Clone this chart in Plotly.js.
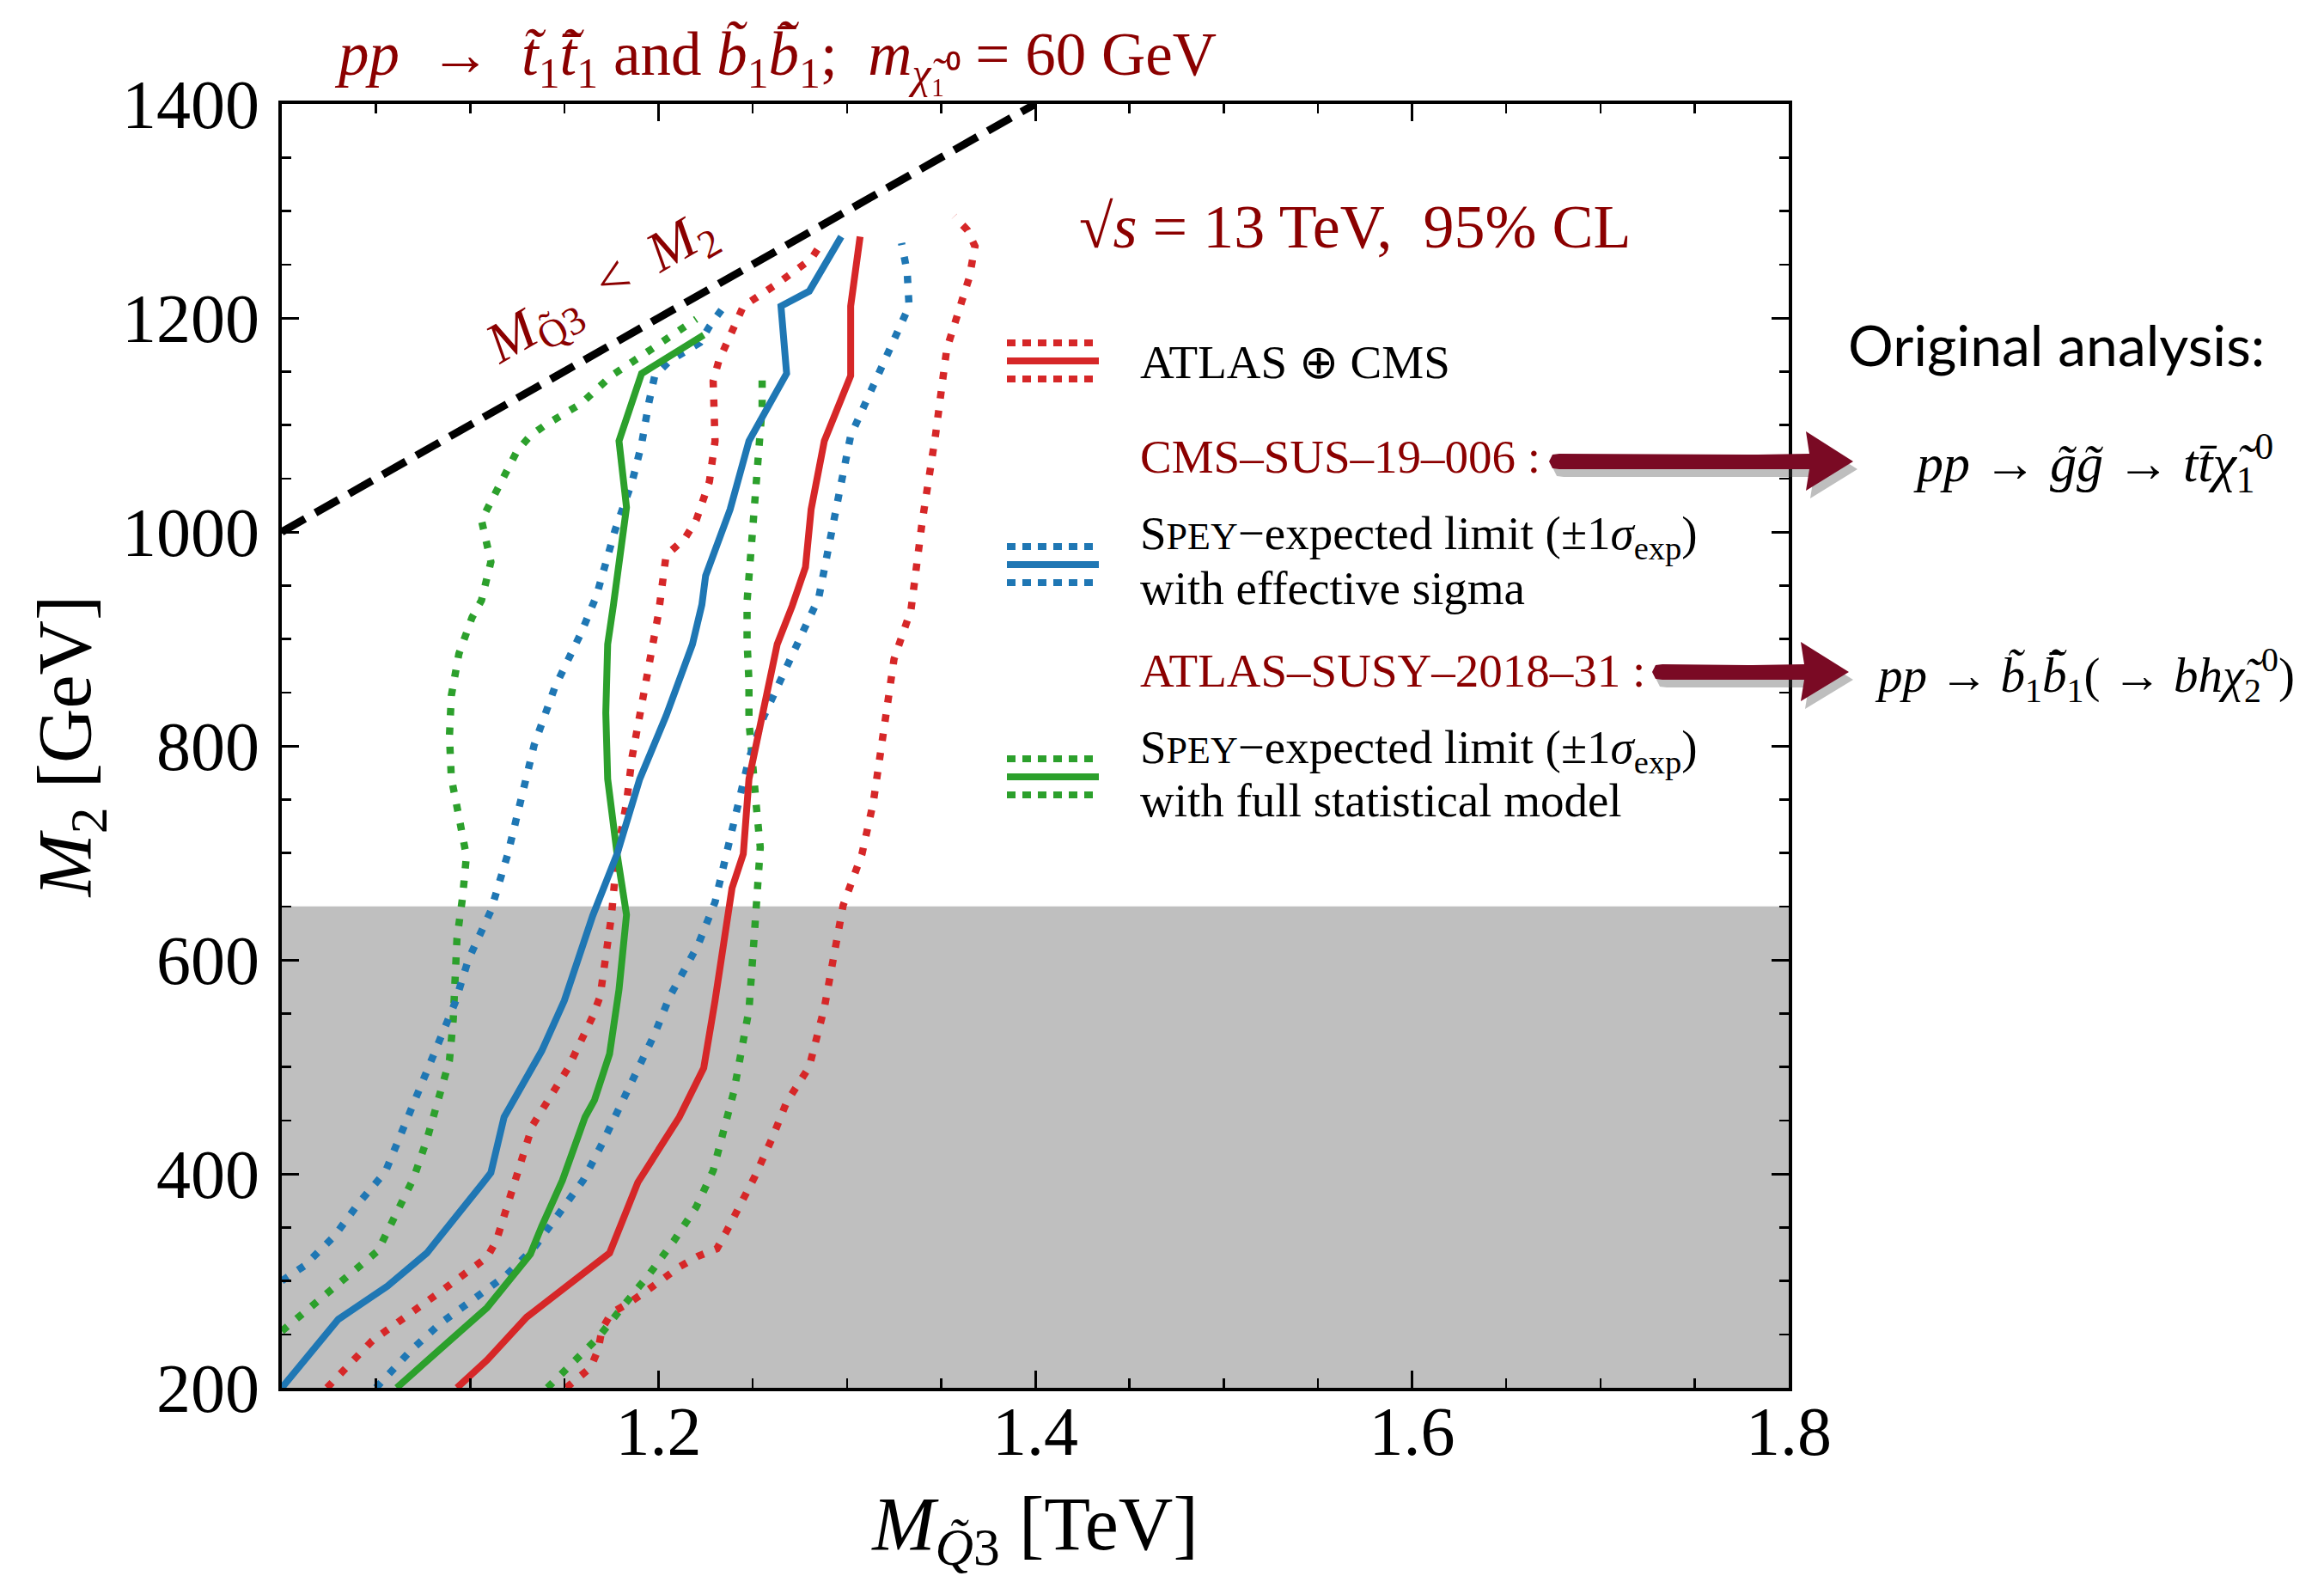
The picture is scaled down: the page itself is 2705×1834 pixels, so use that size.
<!DOCTYPE html>
<html><head><meta charset="utf-8">
<script src="https://cdn.plot.ly/plotly-3.0.1.min.js"></script>
<style>html,body{margin:0;padding:0;background:#fff;} #chart{width:2705px;height:1834px;}</style>
</head><body><div id="chart"></div>
<script>
// ---------------- data (x: M_Q3 in TeV, y: M2 in GeV) ----------------
const atlasCmsX = [1.093, 1.109, 1.130, 1.159, 1.174, 1.189, 1.211, 1.224, 1.230, 1.239, 1.245, 1.248, 1.255, 1.263, 1.271, 1.278, 1.281, 1.288, 1.302, 1.302, 1.307];
const atlasCmsY = [200, 226, 266, 305, 326, 392, 453, 499, 562, 667, 699, 769, 831, 895, 931, 967, 1021, 1085, 1146, 1211, 1276];
const atlasCmsLoX = [1.024, 1.048, 1.082, 1.109, 1.114, 1.124, 1.133, 1.152, 1.165, 1.169, 1.175, 1.178, 1.183, 1.186, 1.193, 1.200, 1.204, 1.214, 1.220, 1.227, 1.230, 1.229, 1.232, 1.236, 1.240, 1.245, 1.263, 1.281, 1.287];
const atlasCmsLoY = [200, 244, 287, 322, 338, 392, 445, 499, 547, 566, 641, 699, 747, 790, 855, 924, 978, 994, 1011, 1047, 1085, 1141, 1160, 1176, 1195, 1211, 1232, 1255, 1271];
const atlasCmsHiX = [1.151, 1.164, 1.168, 1.170, 1.175, 1.184, 1.194, 1.202, 1.211, 1.221, 1.231, 1.236, 1.241, 1.246, 1.251, 1.260, 1.268, 1.280, 1.285, 1.288, 1.298, 1.308, 1.314, 1.320, 1.325, 1.334, 1.340, 1.347, 1.353, 1.365, 1.368, 1.364, 1.357];
const atlasCmsHiY = [200, 219, 236, 255, 270, 279, 291, 301, 313, 323, 330, 346, 362, 378, 397, 432, 467, 500, 536, 555, 651, 699, 747, 815, 881, 927, 1010, 1090, 1171, 1238, 1267, 1282, 1295];

const speyEffX = [1.000, 1.030, 1.056, 1.077, 1.107, 1.111, 1.118, 1.138, 1.150, 1.165, 1.178, 1.190, 1.204, 1.218, 1.223, 1.225, 1.238, 1.248, 1.268, 1.265, 1.280, 1.297];
const speyEffY = [200, 264, 295, 326, 392, 401, 453, 515, 562, 641, 699, 769, 828, 895, 932, 959, 1021, 1085, 1148, 1211, 1225, 1276];
const speyEffLoX = [1.000, 1.012, 1.028, 1.041, 1.055, 1.063, 1.072, 1.080, 1.088, 1.092, 1.099, 1.111, 1.120, 1.127, 1.134, 1.145, 1.159, 1.167, 1.177, 1.186, 1.191, 1.195, 1.198, 1.206, 1.222, 1.227, 1.234];
const speyEffLoY = [300, 314, 342, 373, 402, 437, 472, 508, 544, 560, 600, 646, 699, 748, 801, 855, 906, 940, 1002, 1047, 1082, 1122, 1146, 1160, 1177, 1192, 1209];
const speyEffHiX = [1.050, 1.068, 1.084, 1.101, 1.119, 1.134, 1.147, 1.160, 1.170, 1.179, 1.189, 1.198, 1.206, 1.221, 1.230, 1.236, 1.242, 1.248, 1.256, 1.267, 1.277, 1.285, 1.292, 1.296, 1.302, 1.316, 1.327, 1.333, 1.332, 1.329];
const speyEffHiY = [200, 234, 260, 282, 305, 331, 362, 394, 428, 462, 496, 531, 566, 614, 654, 699, 748, 788, 828, 868, 908, 938, 997, 1037, 1090, 1144, 1184, 1211, 1243, 1270];

const speyFullX = [1.061, 1.109, 1.132, 1.138, 1.149, 1.161, 1.166, 1.174, 1.179, 1.183, 1.178, 1.173, 1.172, 1.173, 1.176, 1.183, 1.179, 1.191, 1.224];
const speyFullY = [200, 275, 325, 351, 394, 453, 469, 512, 572, 642, 699, 769, 831, 895, 931, 1023, 1085, 1148, 1184];
const speyFullLoX = [1.000, 1.009, 1.018, 1.034, 1.051, 1.061, 1.070, 1.077, 1.083, 1.089, 1.091, 1.092, 1.093, 1.096, 1.098, 1.094, 1.090, 1.089, 1.090, 1.094, 1.101, 1.106, 1.111, 1.106, 1.115, 1.120, 1.125, 1.132, 1.140, 1.159, 1.175, 1.193, 1.211, 1.220];
const speyFullLoY = [253, 266, 278, 303, 328, 362, 396, 432, 469, 506, 544, 583, 620, 659, 697, 734, 770, 809, 847, 886, 920, 936, 972, 1011, 1041, 1060, 1076, 1090, 1100, 1120, 1146, 1167, 1188, 1199];
const speyFullHiX = [1.141, 1.152, 1.168, 1.181, 1.195, 1.208, 1.220, 1.229, 1.235, 1.240, 1.244, 1.248, 1.251, 1.253, 1.254, 1.252, 1.250, 1.248, 1.248, 1.247, 1.247, 1.250, 1.252, 1.255, 1.255];
const speyFullHiY = [200, 220, 247, 276, 306, 337, 369, 403, 440, 477, 515, 553, 627, 667, 705, 742, 785, 823, 860, 898, 935, 1010, 1064, 1117, 1144];

// kinematic boundary M_Q3 = M2 and excluded band
const boundaryX = [1.0, 1.4];
const boundaryY = [1000, 1400];
const grayBandY = [200, 650];

// axes
const xRange = [1.0, 1.8];
const yRange = [200, 1400];
const xTickVals = [1.0, 1.2, 1.4, 1.6, 1.8];
const xTickText = ['', '1.2', '1.4', '1.6', '1.8'];
const yTickVals = [200, 400, 600, 800, 1000, 1200, 1400];
const yTickText = ['200', '400', '600', '800', '1000', '1200', '1400'];

// ---------------- styling ----------------
const RED = '#d62728', BLUE = '#1f77b4', GREEN = '#2ca02c', DARKRED = '#8b0000', MAROON = '#7a0a24';
const LW = 8, DOT = '8.5px,14px';
const W = 2705, H = 1834, ML = 328, MR = 623, MT = 121, MB = 219;
const PW = W - ML - MR, PH = H - MT - MB;
const px = v => (v - ML) / PW;          // pixel x -> paper
const py = v => (H - MB - v) / PH;      // pixel y -> paper

function line(x, y, color, dash) {
  return {x: x, y: y, type: 'scatter', mode: 'lines', showlegend: false, hoverinfo: 'skip',
          line: {color: color, width: dash ? 8.5 : LW, dash: dash ? DOT : 'solid', shape: 'linear'}};
}
const traces = [
  line(speyFullLoX, speyFullLoY, GREEN, true),
  line(speyFullHiX, speyFullHiY, GREEN, true),
  line(speyEffLoX, speyEffLoY, BLUE, true),
  line(speyEffHiX, speyEffHiY, BLUE, true),
  line(atlasCmsLoX, atlasCmsLoY, RED, true),
  line(atlasCmsHiX, atlasCmsHiY, RED, true),
  line(speyFullX, speyFullY, GREEN, false),
  line(speyEffX, speyEffY, BLUE, false),
  line(atlasCmsX, atlasCmsY, RED, false),
  {x: boundaryX, y: boundaryY, type: 'scatter', mode: 'lines', showlegend: false, hoverinfo: 'skip',
   line: {color: 'black', width: 9, dash: '31px,14px'}}
];

// ---------------- shapes ----------------
const shapes = [];
shapes.push({type: 'rect', xref: 'paper', yref: 'y', x0: 0, x1: 1, y0: grayBandY[0], y1: grayBandY[1],
             fillcolor: '#bfbfbf', line: {width: 0}, layer: 'below'});
function legendSym(yc, color) {
  [[-21, true], [0, false], [21, true]].forEach(([d, dotted]) => {
    shapes.push({type: 'line', xref: 'paper', yref: 'paper', x0: px(1172), x1: px(dotted ? 1272 : 1279),
                 y0: py(yc + d), y1: py(yc + d),
                 line: {color: color, width: 8, dash: dotted ? '10px,8px' : 'solid'}});
  });
}
legendSym(420, RED);
legendSym(657, BLUE);
legendSym(904, GREEN);

function pathOf(pts, dx, dy) {
  return pts.map((p, i) => (i === 0 ? 'M ' : 'L ') + px(p[0] + dx).toFixed(5) + ',' + py(p[1] + dy).toFixed(5)).join(' ') + ' Z';
}
function arrow(x0, xb, xt, yc) {
  const pts = [[x0, yc], [x0 + 4, yc - 8], [x0 + 12, yc - 9], [xb - 60, yc - 8], [xb, yc - 9], [xb - 4, yc - 35],
               [xt, yc], [xb - 4, yc + 34], [xb, yc + 9], [xb - 80, yc + 9], [x0 + 12, yc + 9], [x0 + 4, yc + 8]];
  shapes.push({type: 'path', xref: 'paper', yref: 'paper', path: pathOf(pts, 5, 9),
               fillcolor: 'rgba(70,70,70,0.35)', line: {width: 0}});
  shapes.push({type: 'path', xref: 'paper', yref: 'paper', path: pathOf(pts, 0, 0),
               fillcolor: MAROON, line: {width: 0}});
}
arrow(1803, 2106, 2157, 537);
arrow(1923, 2100, 2152, 782);

// ---------------- annotations ----------------
const SERIF = 'Liberation Serif';
function ann(text, x, y, size, color, opts) {
  return Object.assign({text: text, xref: 'paper', yref: 'paper', x: px(x), y: py(y), showarrow: false,
    xanchor: 'left', yanchor: 'middle', font: {family: SERIF, size: size, color: color}}, opts || {});
}
const spey = 'S<span style="font-size:44px">PEY</span>−expected limit (±1<i>σ</i><sub>exp</sub>)';
const annotations = [
  ann('√<i>s</i> = 13 TeV,  95% CL', 1254, 264, 72, DARKRED),
  ann('ATLAS ⊕ CMS', 1325, 421, 55, 'black'),
  ann('CMS–SUS–19–006 :', 1325, 531, 55, DARKRED),
  ann(spey, 1325, 624, 55, 'black'),
  ann('with effective sigma', 1325, 684, 55, 'black'),
  ann('ATLAS–SUSY–2018–31 :', 1325, 780, 55, DARKRED),
  ann(spey, 1325, 873, 55, 'black'),
  ann('with full statistical model', 1325, 931, 55, 'black'),
  ann('<i>M</i><sub>Q̃3</sub>  <  <i>M</i><sub>2</sub>', 700, 336, 66, DARKRED, {xanchor: 'center', textangle: -29.6}),
  ann('Original analysis:', 2149, 400, 66, 'black', {font: {family: 'Lato', size: 66, color: 'black'}}),
  ann('<i>pp</i> → <i>g̃g̃</i> → <i>tt̄χ̃</i><sub>1</sub><sup>0</sup>', 2225, 538, 62, 'black'),
  ann('<i>pp</i> → <i>b̃</i><sub>1</sub><i>b̃̄</i><sub>1</sub>( → <i>bhχ̃</i><sub>2</sub><sup>0</sup>)', 2180, 785, 57, 'black')
];

// ---------------- layout ----------------
const axisCommon = {
  showline: true, linewidth: 4, linecolor: 'black', mirror: 'ticks', ticks: 'inside',
  ticklen: 20, tickwidth: 3, tickcolor: 'black', showgrid: false, zeroline: false,
  tickfont: {family: SERIF, size: 80, color: 'black'}, fixedrange: true
};
const layout = {
  width: W, height: H,
  margin: {l: ML, r: MR, t: MT, b: MB, pad: 0},
  paper_bgcolor: 'white', plot_bgcolor: 'white',
  font: {family: SERIF, color: 'black'},
  showlegend: false,
  title: {text: '<i>pp</i>  →  <i>t̃</i><sub>1</sub><i>t̃̄</i><sub>1</sub> and <i>b̃</i><sub>1</sub><i>b̃̄</i><sub>1</sub>;  <i>m</i><sub><i>χ̃</i>₁⁰</sub> = 60 GeV',
          font: {family: SERIF, size: 71, color: DARKRED}, xref: 'paper', x: px(905), xanchor: 'center',
          yref: 'container', y: 1 - 62 / H, yanchor: 'middle'},
  xaxis: Object.assign({}, axisCommon, {
    range: xRange, tickmode: 'array', tickvals: xTickVals, ticktext: xTickText, ticklabelstandoff: -22,
    minor: {ticks: 'inside', ticklen: 11, tickwidth: 2.5, tickcolor: 'black', tick0: 1.0, dtick: 0.05, showgrid: false},
    title: {text: '<i>M</i><sub><i>Q̃</i>3</sub> [TeV]', font: {family: SERIF, size: 88, color: 'black'}, standoff: 34}
  }),
  yaxis: Object.assign({}, axisCommon, {
    range: yRange, tickmode: 'array', tickvals: yTickVals, ticktext: yTickText, ticklabelstandoff: 6,
    minor: {ticks: 'inside', ticklen: 11, tickwidth: 2.5, tickcolor: 'black', tick0: 200, dtick: 50, showgrid: false},
    title: {text: '<i>M</i><sub>2</sub> [GeV]', font: {family: SERIF, size: 88, color: 'black'}, standoff: 8}
  }),
  shapes: shapes,
  annotations: annotations
};

Plotly.newPlot('chart', traces, layout, {staticPlot: true, displayModeBar: false});
</script></body></html>
